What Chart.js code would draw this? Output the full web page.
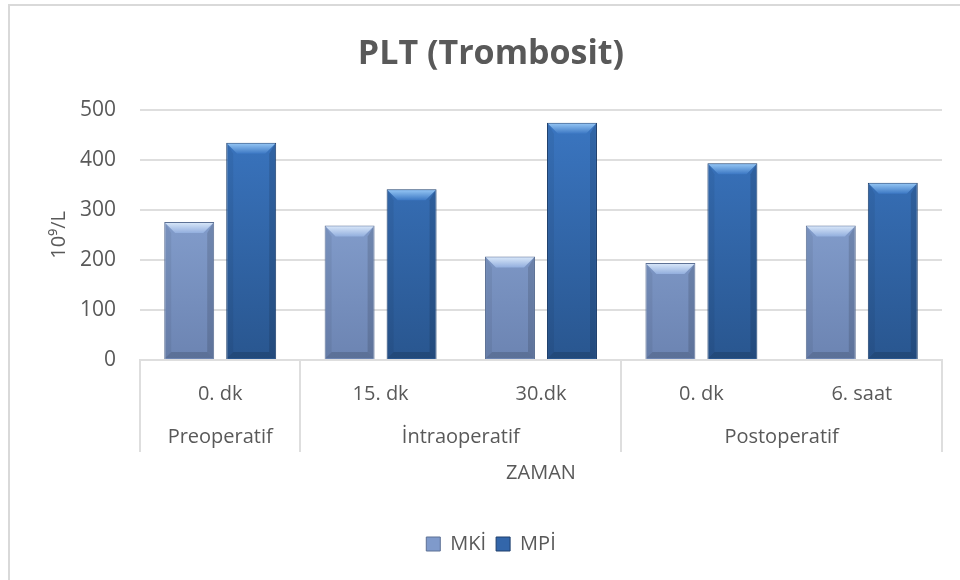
<!DOCTYPE html>
<html>
<head>
<meta charset="utf-8">
<script src="https://cdn.jsdelivr.net/npm/chart.js@4"></script>
<style>
  html, body { margin: 0; padding: 0; background: #fff; overflow: hidden; }
  #frame { position: absolute; left: 8px; top: 4px; width: 980px; height: 600px;
           border-left: 2px solid #d9d9d9; border-top: 2px solid #d9d9d9; }
</style>
</head>
<body>
<div id="frame"><canvas id="myChart" width="962" height="574"></canvas></div>
<script>
  // data
  const categories = ['0. dk', '15. dk', '30.dk', '0. dk', '6. saat'];
  const groups = ['Preoperatif', 'İntraoperatif', 'Postoperatif'];
  const groupSpans = [1, 2, 2];
  const mkiValues = [276, 269, 207, 194, 269];
  const mpiValues = [434, 341, 474, 393, 354];

  const textColor = '#595959';
  const gridColor = '#dedede';

  // colours for the two series (top of bar, bottom of bar, bevel, border)
  const shades = [
    { top: '#93afde', bottom: '#6c84b2', hi: '#d6e5f8', solid: '#7f9acb', border: '#5d7195' },
    { top: '#3b77c3', bottom: '#29568f', hi: '#90c2f2', solid: '#3366aa', border: '#1e3f6c' }
  ];

  function barFill(i) {
    return function (context) {
      const area = context.chart.chartArea;
      if (!area) return shades[i].solid;
      const g = context.chart.ctx.createLinearGradient(0, area.top, 0, area.bottom);
      g.addColorStop(0, shades[i].top);
      g.addColorStop(1, shades[i].bottom);
      return g;
    };
  }

  //    bevel on each bar, drawn from the bar elements
  const bevelPlugin = {
    id: 'bevel',
    afterDatasetsDraw(chart) {
      const ctx = chart.ctx;
      chart.data.datasets.forEach((ds, di) => {
        const meta = chart.getDatasetMeta(di);
        const shade = shades[di];
        meta.data.forEach(bar => {
          const { x, y, base, width } = bar.getProps(['x', 'y', 'base', 'width'], true);
          const l = x - width / 2 + 1, r = x + width / 2 - 1, t = y + 1, b = base - 1;
          const d = 10, s = 6;
          ctx.save();
          const g = ctx.createLinearGradient(0, t, 0, t + d);
          g.addColorStop(0, shade.hi);
          g.addColorStop(1, shade.top);
          ctx.fillStyle = g;
          ctx.beginPath();
          ctx.moveTo(l, t); ctx.lineTo(r, t); ctx.lineTo(r - d, t + d); ctx.lineTo(l + d, t + d);
          ctx.closePath(); ctx.fill();

          ctx.fillStyle = 'rgba(0,0,0,0.06)';
          ctx.beginPath();
          ctx.moveTo(l, t); ctx.lineTo(l + s, t + d); ctx.lineTo(l + s, b - s); ctx.lineTo(l, b);
          ctx.closePath(); ctx.fill();

          ctx.fillStyle = 'rgba(0,0,0,0.13)';
          ctx.beginPath();
          ctx.moveTo(r, t); ctx.lineTo(r - s, t + d); ctx.lineTo(r - s, b - s); ctx.lineTo(r, b);
          ctx.closePath(); ctx.fill();

          ctx.fillStyle = 'rgba(0,0,0,0.15)';
          ctx.beginPath();
          ctx.moveTo(l, b); ctx.lineTo(l + s, b - s); ctx.lineTo(r - s, b - s); ctx.lineTo(r, b);
          ctx.closePath(); ctx.fill();
          ctx.restore();
        });
      });
    }
  };

  //    second row of the category axis (groups + separators)
  const groupAxis = {
    id: 'groupAxis',
    afterDraw(chart) {
      const xs = chart.scales.x, ctx = chart.ctx;
      const half = (xs.getPixelForValue(1) - xs.getPixelForValue(0)) / 2;
      ctx.save();
      ctx.strokeStyle = gridColor;
      ctx.lineWidth = 2;
      ctx.fillStyle = textColor;
      ctx.font = '20px "Open Sans"';
      ctx.textAlign = 'center';
      ctx.textBaseline = 'middle';
      let idx = 0;
      groups.forEach((name, i) => {
        const start = xs.getPixelForValue(idx) - half;
        idx += groupSpans[i];
        const end = xs.getPixelForValue(idx - 1) + half;
        ctx.fillText(name, (start + end) / 2, xs.top + 77);
        [start, end].forEach(px => {
          ctx.beginPath();
          ctx.moveTo(Math.round(px), xs.top);
          ctx.lineTo(Math.round(px), xs.top + 92);
          ctx.stroke();
        });
      });
      ctx.restore();
    }
  };

  const chartData = {
    labels: categories,
    datasets: [
      {
        label: 'MKİ',
        data: mkiValues,
        backgroundColor: barFill(0),
        borderColor: shades[0].border,
        borderWidth: 1,
        categoryPercentage: 0.773,
        barPercentage: 0.806
      },
      {
        label: 'MPİ',
        data: mpiValues,
        backgroundColor: barFill(1),
        borderColor: shades[1].border,
        borderWidth: 1,
        categoryPercentage: 0.773,
        barPercentage: 0.806
      }
    ]
  };

  const config = {
    type: 'bar',
    data: chartData,
    plugins: [bevelPlugin, groupAxis],
    options: {
      responsive: false,
      animation: false,
      layout: { padding: { top: 0, left: 0, right: 0, bottom: 16 } },
      plugins: {
        title: {
          display: true,
          text: 'PLT (Trombosit)',
          color: textColor,
          font: { family: 'Open Sans', size: 34, weight: 'bold' },
          padding: { top: 28, bottom: 35 }
        },
        legend: {
          position: 'bottom',
          labels: {
            color: textColor,
            font: { family: 'Open Sans', size: 20 },
            boxWidth: 14,
            boxHeight: 14,
            padding: 10,
            generateLabels: function (chart) {
              return chart.data.datasets.map((ds, i) => ({
                text: ds.label,
                fillStyle: shades[i].solid,
                strokeStyle: shades[i].border,
                lineWidth: 1,
                fontColor: textColor,
                datasetIndex: i
              }));
            }
          }
        },
        tooltip: { enabled: false }
      },
      scales: {
        x: {
          afterFit: scale => { scale.height = 164; },
          grid: { display: false },
          border: { display: true, color: gridColor, width: 2 },
          ticks: {
            color: textColor,
            font: { family: 'Open Sans', size: 20 },
            padding: 14,
            maxRotation: 0
          },
          title: {
            display: true,
            text: 'ZAMAN',
            color: textColor,
            font: { family: 'Open Sans', size: 20 },
            padding: { top: 0, bottom: 39 }
          }
        },
        y: {
          min: 0,
          max: 500,
          afterFit: scale => { scale.width = 130; },
          border: { display: false },
          grid: { color: gridColor, lineWidth: 2, drawTicks: false },
          ticks: {
            stepSize: 100,
            color: textColor,
            font: { family: 'Open Sans', size: 21 },
            padding: 24
          },
          title: {
            display: true,
            text: '10⁹/L',
            color: textColor,
            font: { family: 'Open Sans', size: 20 },
            padding: { top: 37, bottom: 0 }
          }
        },
        // empty right-hand strip so the plot ends where the original does
        yRight: {
          position: 'right',
          afterFit: scale => { scale.width = 30; },
          grid: { display: false },
          border: { display: false },
          ticks: { display: false }
        }
      }
    }
  };

  new Chart(document.getElementById('myChart'), config);
</script>
</body>
</html>
